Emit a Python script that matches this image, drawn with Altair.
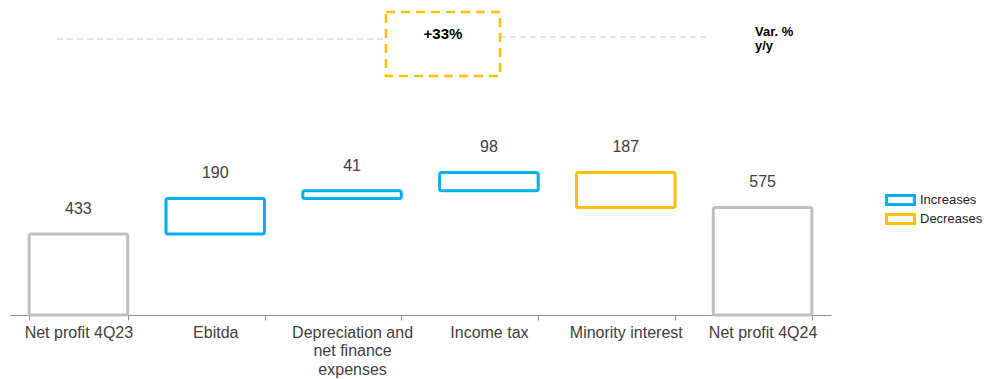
import altair as alt
import pandas as pd

categories = ["Net profit 4Q23", "Ebitda", "Depreciation and|net finance|expenses",
              "Income tax", "Minority interest", "Net profit 4Q24"]
changes = [433, 190, 41, 98, -187, 575]
kinds = ["Total", "Increases", "Increases", "Increases", "Decreases", "Total"]
label_values = ["433", "190", "41", "98", "187", "575"]
variation_text = "+33%"
variation_title = ["Var. %", "y/y"]

# waterfall starts / ends
starts, ends = [], []
running = 0
for c, k in zip(changes, kinds):
    if k == "Total":
        starts.append(0)
        ends.append(c)
        running = c
    else:
        starts.append(running)
        running += c
        ends.append(running)

df = pd.DataFrame({
    "cat": categories, "start": starts, "end": ends, "kind": kinds,
    "label": label_values,
    "top": [max(s, e) for s, e in zip(starts, ends)],
})

FONT = "Arial, Liberation Sans, sans-serif"
BLUE, YELLOW, GRAY = "#00B0F0", "#FFC000", "#BFBFBF"

xenc = alt.X("cat:N", sort=categories, title=None,
             scale=alt.Scale(paddingInner=0.28, paddingOuter=0.14),
             axis=alt.Axis(labelExpr="split(datum.label, '|')", labelAngle=0,
                           labelFontSize=16, labelColor="#404040", labelFont=FONT,
                           labelLineHeight=18.5, labelPadding=4, tickBand="extent",
                           tickSize=5, tickColor="#8c8c8c", domainColor="#8c8c8c",
                           labelBaseline="top", grid=False))
yscale = alt.Scale(domain=[0, 1684], nice=False, zero=True)

base = alt.Chart(df)
bars = base.mark_bar(filled=False, strokeWidth=3, cornerRadius=2).encode(
    x=xenc,
    y=alt.Y("start:Q", scale=yscale, axis=None),
    y2="end:Q",
    stroke=alt.Stroke("kind:N",
                      scale=alt.Scale(domain=["Increases", "Decreases", "Total"],
                                      range=[BLUE, YELLOW, GRAY]),
                      legend=alt.Legend(values=["Increases", "Decreases"], title=None,
                                        orient="none", legendX=874, legendY=193,
                                        symbolType="M-0.93,-0.3H0.93V0.3H-0.93Z",
                                        symbolSize=900, symbolStrokeWidth=3,
                                        symbolFillColor="white",
                                        labelFontSize=13, labelFont=FONT,
                                        labelColor="#222222", rowPadding=5,
                                        clipHeight=14,
                                        labelOffset=3)),
)
labels = base.mark_text(fontSize=16, font=FONT, color="#404040", dy=-20,
                        baseline="alphabetic").encode(
    x=alt.X("cat:N", sort=categories),
    y=alt.Y("top:Q", scale=yscale),
    text="label:N",
)

ann_df = pd.DataFrame({"t": [variation_text]})
ann = alt.Chart(ann_df)
line_left = ann.mark_rule(color="#C8C8C8", strokeWidth=1, strokeDash=[6, 4]).encode(
    x=alt.value(47), x2=alt.value(376), y=alt.value(39))
line_right = ann.mark_rule(color="#C8C8C8", strokeWidth=1, strokeDash=[6, 4]).encode(
    x=alt.value(490), x2=alt.value(697), y=alt.value(37))
box = ann.mark_rect(fill="white", stroke=YELLOW, strokeWidth=2.5,
                    strokeDash=[9, 6]).encode(
    x=alt.value(376), x2=alt.value(490), y=alt.value(12), y2=alt.value(76))
box_text = ann.mark_text(fontSize=15, fontWeight="bold", font=FONT,
                         color="#000000").encode(
    x=alt.value(433), y=alt.value(34), text="t:N")
var_df = pd.DataFrame({"t": [variation_title]})
var_text = alt.Chart(var_df).mark_text(fontSize=13, fontWeight="bold", font=FONT,
                                       color="#000000", align="left",
                                       lineHeight=14).encode(
    x=alt.value(745), y=alt.value(32), text="t")

chart = alt.layer(line_left, line_right, box, box_text, var_text, bars, labels).properties(
    width=821, height=315,
    autosize=alt.AutoSizeParams(type="none"),
    padding={"left": 10, "top": 0, "right": 153, "bottom": 64},
).configure_view(stroke=None).resolve_scale(x="shared", y="shared")

chart.save("out.html", embed_options={"renderer": "svg", "actions": False})
